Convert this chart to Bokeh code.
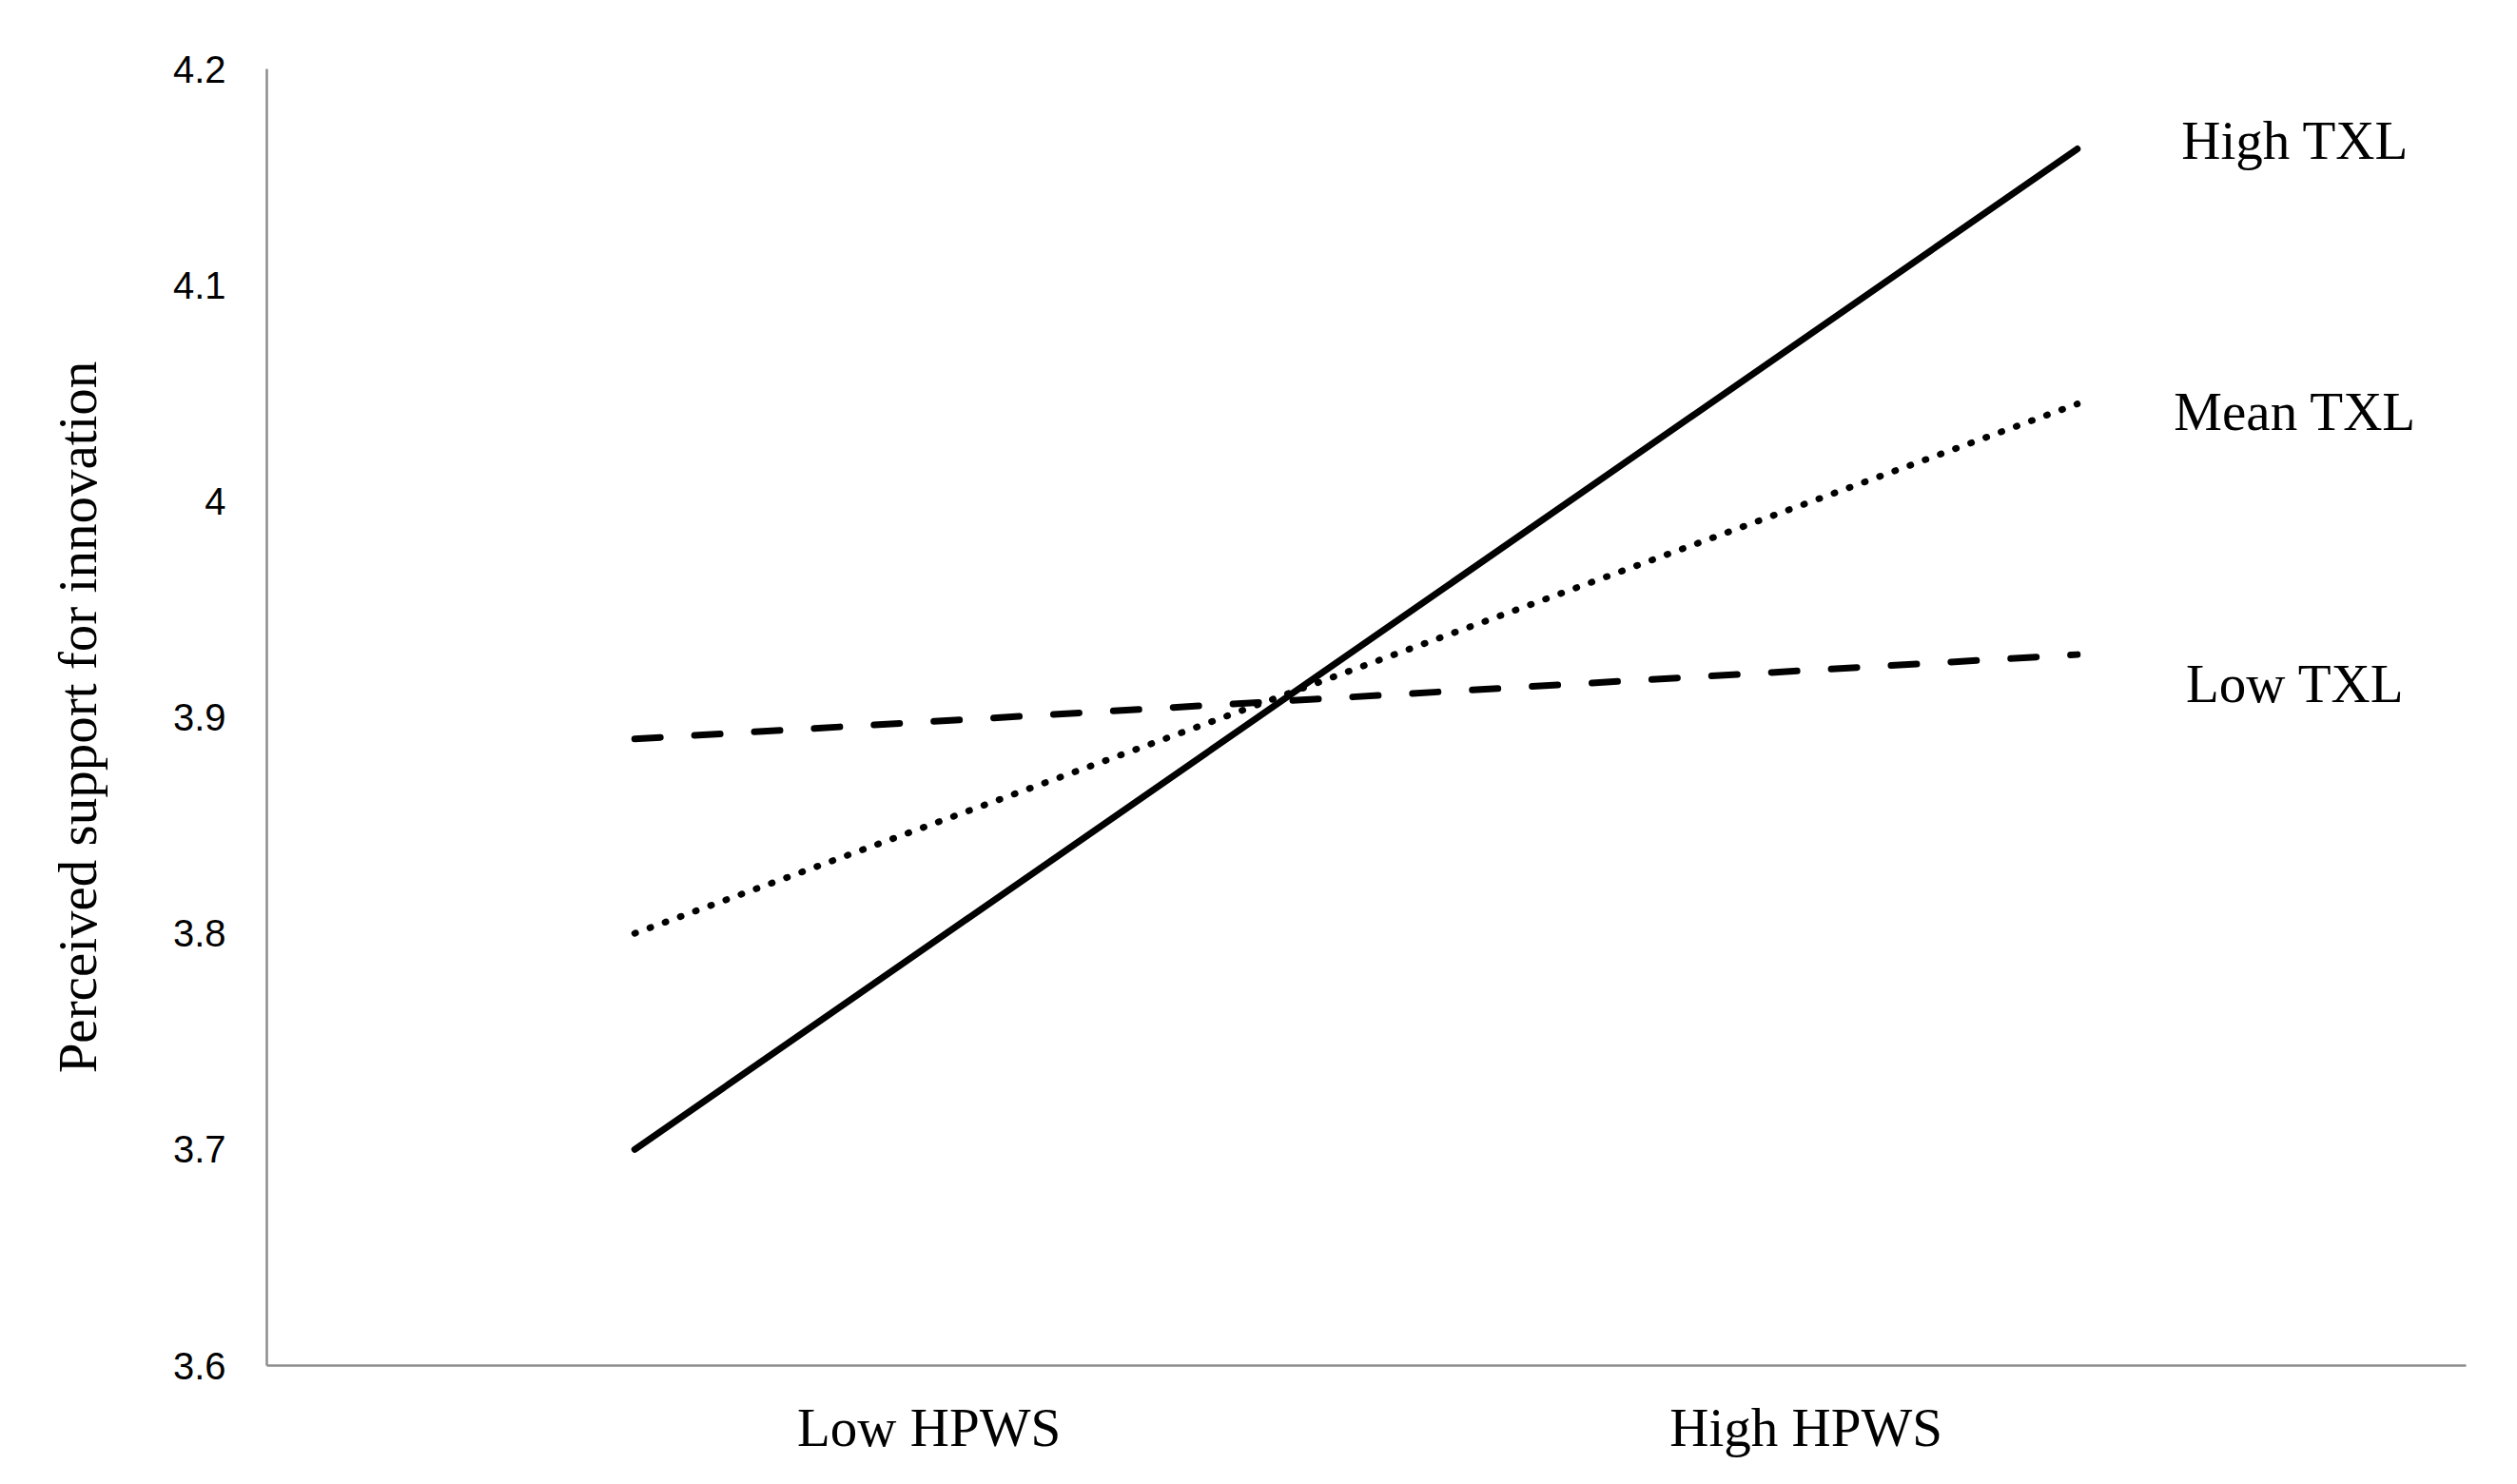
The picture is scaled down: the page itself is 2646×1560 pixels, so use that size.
from bokeh.plotting import figure
from bokeh.models import Range1d, FixedTicker, Label
from bokeh.embed import file_html
from bokeh.resources import INLINE

# ---- data ----
categories = ["Low HPWS", "High HPWS"]
series_names = ["High TXL", "Mean TXL", "Low TXL"]
high_txl = [3.70, 4.163]
mean_txl = [3.80, 4.045]
low_txl = [3.890, 3.929]
y_ticks = [3.6, 3.7, 3.8, 3.9, 4.0, 4.1, 4.2]
y_tick_labels = ["3.6", "3.7", "3.8", "3.9", "4", "4.1", "4.2"]
y_title = "Perceived support for innovation"

# ---- layout ----
x_pos = [0, 1]                      # positions of the two HPWS levels
x_label_pos = [0.204, 0.812]        # where category labels sit
SERIF = "Liberation Serif"
SANS = "Liberation Sans"

p = figure(frame_width=2312, frame_height=1363,
           x_range=Range1d(-0.255, 1.2695), y_range=Range1d(3.6, 4.2),
           output_backend="svg", toolbar_location=None,
           min_border_left=280, min_border_right=38,
           min_border_top=72, min_border_bottom=109)
p.outline_line_color = None
p.grid.visible = False
p.background_fill_color = "white"
p.border_fill_color = "white"

# x axis
p.xaxis.ticker = FixedTicker(ticks=x_label_pos)
p.xaxis.major_label_overrides = {t: c for t, c in zip(x_label_pos, categories)}
p.xaxis.major_label_text_font = SERIF
p.xaxis.major_label_text_font_size = "57px"
p.xaxis.major_label_text_color = "black"
p.xaxis.major_label_standoff = 27
p.xaxis.major_tick_line_color = None
p.xaxis.minor_tick_line_color = None
p.xaxis.axis_line_color = "#8c8c8c"
p.xaxis.axis_line_width = 2.5

# y axis
p.yaxis.ticker = FixedTicker(ticks=y_ticks)
p.yaxis.major_label_overrides = {t: l for t, l in zip(y_ticks, y_tick_labels)}
p.yaxis.major_label_text_font = SANS
p.yaxis.major_label_text_font_size = "40px"
p.yaxis.major_label_text_color = "black"
p.yaxis.major_label_standoff = 37
p.yaxis.major_tick_line_color = None
p.yaxis.minor_tick_line_color = None
p.yaxis.axis_line_color = "#8c8c8c"
p.yaxis.axis_line_width = 2.5
p.yaxis.axis_label = y_title
p.yaxis.axis_label_text_font = SERIF
p.yaxis.axis_label_text_font_size = "57px"
p.yaxis.axis_label_text_font_style = "normal"
p.yaxis.axis_label_text_color = "black"
p.yaxis.axis_label_standoff = 66

# lines
p.line(x_pos, high_txl, line_color="black", line_width=7, line_cap="round")
p.line(x_pos, mean_txl, line_color="black", line_width=7, line_cap="round",
       line_dash="1 16")
p.line(x_pos, low_txl, line_color="black", line_width=7, line_cap="round",
       line_dash="27 36")

# end labels
label_offsets = [9, -8, -30]
for name, vals, dy in zip(series_names, [high_txl, mean_txl, low_txl], label_offsets):
    p.add_layout(Label(x=x_pos[-1], y=vals[-1], x_offset=229, y_offset=dy,
                       text=name, text_align="center", text_baseline="middle",
                       text_font=SERIF, text_font_size="57px", text_color="black"))

open("out.html", "w").write(file_html(p, INLINE))
